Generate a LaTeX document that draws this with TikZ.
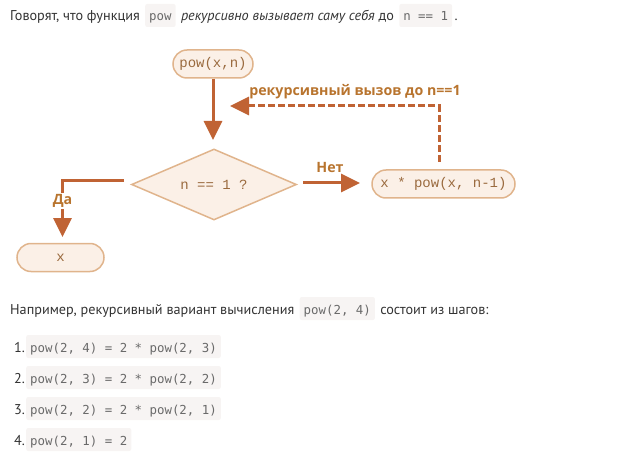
\documentclass[tikz,border=0pt]{standalone}
\usepackage{fontspec}
\setmainfont{PT Sans}
\newfontfamily\labelfont{Open Sans}
\newfontfamily\codefont{DejaVu Sans Mono}
\newfontfamily\diafont{Liberation Mono}
\usetikzlibrary{shapes.geometric,arrows.meta}
\definecolor{arrowc}{HTML}{C06334}
\definecolor{labelc}{HTML}{B8742E}
\definecolor{nodeborder}{HTML}{E0B48C}
\definecolor{nodefill}{HTML}{FBF0E7}
\definecolor{nodetext}{HTML}{9A6A3E}
\definecolor{bodytext}{HTML}{333333}
\definecolor{codebg}{HTML}{F7F4F3}
\definecolor{codetext}{HTML}{6A6A6A}
\tikzset{
  pill/.style={draw=nodeborder, fill=nodefill, line width=1.5pt, rounded corners=14pt,
    minimum height=28pt, inner sep=0pt, text=nodetext, font=\diafont\fontsize{14}{16}\selectfont},
  decision/.style={diamond, draw=nodeborder, fill=nodefill, line width=1.5pt,
    minimum width=165pt, minimum height=71pt, inner sep=0pt, aspect=2.3,
    text=nodetext, font=\diafont\fontsize{14}{16}\selectfont},
  flow/.style={draw=arrowc, line width=3pt, -{Triangle[length=19pt,width=18pt]}},
  lbl/.style={text=labelc, font=\labelfont\bfseries\fontsize{14.2}{16}\selectfont, inner sep=1pt},
  body/.style={text=bodytext, font=\fontsize{14.2}{17}\selectfont, inner sep=0pt, anchor=base west},
  code/.style={fill=codebg, rounded corners=2pt, text=codetext, font=\codefont\fontsize{12.4}{15}\selectfont,
    inner xsep=4pt, anchor=base west, text depth=2pt, text height=13pt, inner ysep=4pt},
  num/.style={text=bodytext, font=\fontsize{14.2}{17}\selectfont, inner sep=0pt, anchor=base east}
}
\begin{document}
\begin{tikzpicture}[x=1pt,y=-1pt]
\useasboundingbox (0,0) rectangle (644,470);
% top sentence
\node[body] (t1) at (10,21) {Говорят, что функция};
\node[code] (t2) at ([xshift=5pt]t1.base east) {pow};
\node[body] (t3) at ([xshift=5pt]t2.base east) {\itshape рекурсивно вызывает саму себя\upshape{} до};
\node[code] (t4) at ([xshift=5pt]t3.base east) {n == 1};
\node[body] (t5) at ([xshift=2pt]t4.base east) {.};
% diagram
\node[pill, minimum width=80pt] (start) at (213,64) {pow(x,n)};
\node[decision] (dec) at (214,184.5) {n == 1 ?};
\node[pill, minimum width=87pt] (res) at (60.5,257.5) {x};
\node[pill, minimum width=143pt] (rec) at (443.5,184) {x * pow(x, n-1)};
\coordinate (decl) at (124,180.5);
\coordinate (corner) at (62.5,180.5);
\coordinate (yesend) at (62.5,237);
\coordinate (noS) at (303,183);
\coordinate (noE) at (360,183);
\coordinate (recS) at (439,162);
\coordinate (recC) at (439,106);
\coordinate (recE) at (230,106);
\draw[flow] (start.south) -- (213,140);
\draw[flow] (decl) -- (corner) -- (yesend);
\node[lbl, fill=white] (yes) at (62.5,201) {Да};
\draw[flow] (noS) -- (noE);
\node[lbl] (no) at (330,168) {Нет};
\draw[flow, dash pattern=on 7pt off 3pt] (recS) -- (recC) -- (recE);
\node[lbl] (reclbl) at (355,92) {рекурсивный вызов до n==1};
% lower text
\node[body] (p1) at (10,314) {Например, рекурсивный вариант вычисления};
\node[code] (p2) at ([xshift=5pt]p1.base east) {pow(2, 4)};
\node[body] (p3) at ([xshift=5pt]p2.base east) {состоит из шагов:};
\foreach \i/\y/\txt in {1/352/{pow(2, 4) = 2 * pow(2, 3)},2/383/{pow(2, 3) = 2 * pow(2, 2)},3/414/{pow(2, 2) = 2 * pow(2, 1)},4/445/{pow(2, 1) = 2}}{
  \node[num] (n\i) at (25,\y) {\i.};
  \node[code] (c\i) at (26,\y) {\txt};
}
\end{tikzpicture}
\end{document}
